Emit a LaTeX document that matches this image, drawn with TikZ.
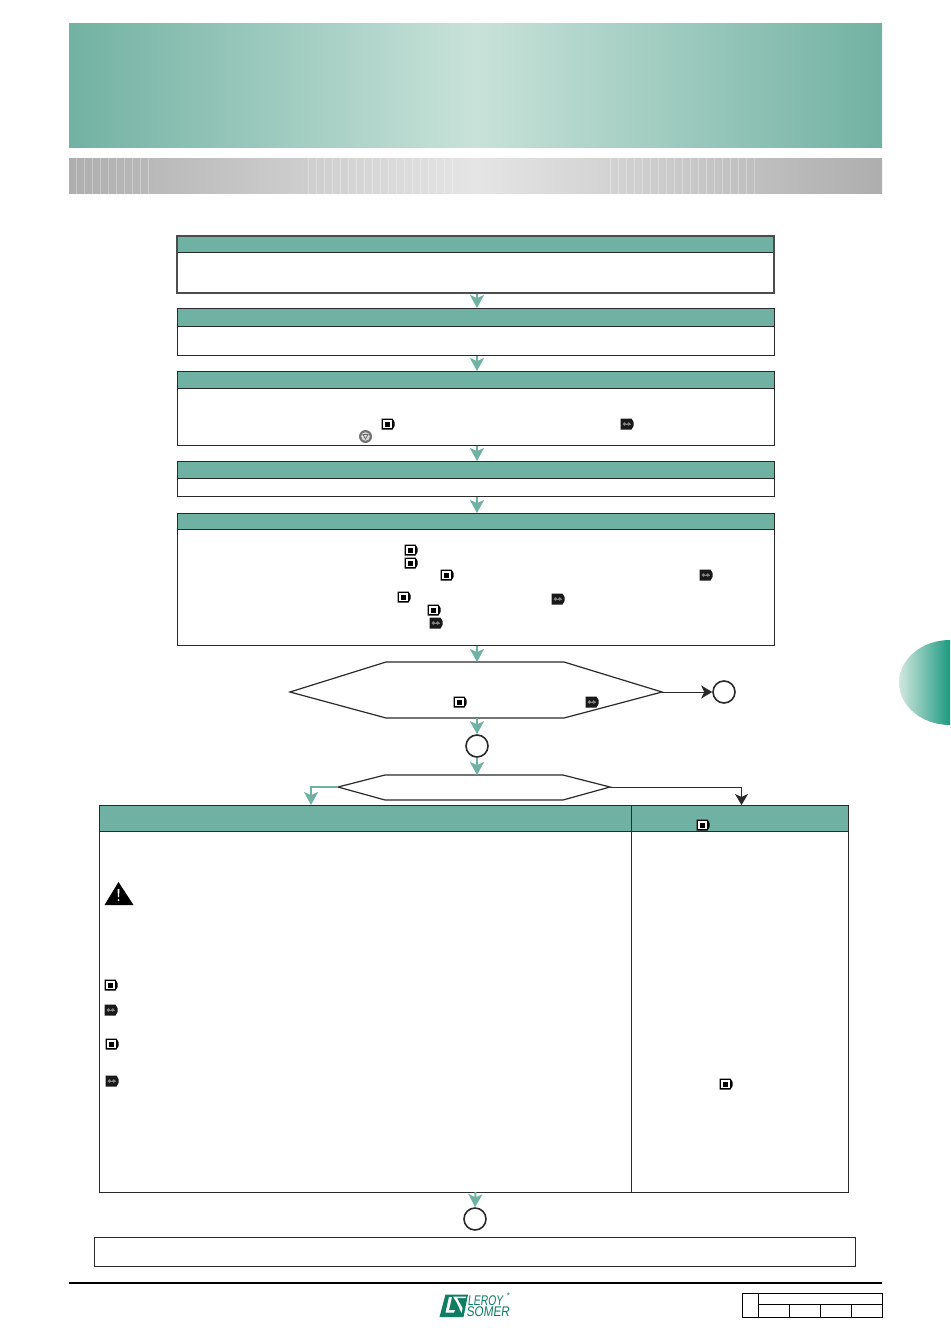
\documentclass[tikz,border=0pt]{standalone}
\usepackage{fontspec}
\setmainfont{Liberation Sans}
\usetikzlibrary{arrows.meta,fit,calc}
\definecolor{tealh}{HTML}{6FB1A3}
\definecolor{dk}{HTML}{2A2A2A}
\definecolor{lsgreen}{HTML}{0F7F63}
\definecolor{banE}{HTML}{72B2A3}
\definecolor{banM}{HTML}{C8E2D9}
\definecolor{barE}{HTML}{AEAEAE}
\definecolor{barM}{HTML}{E5E5E5}
\definecolor{tabL}{HTML}{D2E6E0}
\definecolor{tabR}{HTML}{1C9A80}
\tikzset{
  x=0.5pt,y=-0.5pt,
  px/.style={line width=#1*0.5pt},
  boxst/.style={draw=dk,px=1,inner sep=0pt,rectangle},
  hdrst/.style={fill=tealh,inner sep=0pt,rectangle},
  hrule/.style={draw=dk,px=1},
  tarrow/.style={draw=tealh,px=2,-{Stealth[length=6.5pt,width=7pt,inset=1.6pt]}},
  darrow/.style={draw=dk,px=1,-{Stealth[length=5.5pt,width=6.5pt,inset=1.5pt]}},
  circst/.style={circle,draw=dk,px=1.6,fill=white,minimum size=11pt,inner sep=0pt},
  hexst/.style={draw=dk,px=1.2,fill=white,line join=miter},
  stripe/.style={draw=white,px=1,opacity=0.3},
  iconA/.pic={
    \fill[black] (-6.5,-5.5)--(4.5,-5.5)--(6.5,-2)--(6.5,2)--(4.5,5.5)--(-6.5,5.5)--cycle;
    \fill[white] (-5.3,-3.8) rectangle (3.5,3.8);
    \fill[black] (-3.3,-2.5) rectangle (1.7,2.5);
  },
  iconB/.pic={
    \fill[black!90] (-6.5,-5.5)--(4.5,-5.5)--(6.5,-2)--(6.5,2)--(4.5,5.5)--(-6.5,5.5)--cycle;
    \fill[gray] (-2.5,0) circle (1.9);
    \fill[gray] (1.8,0) circle (1.9);
    \draw[gray,px=0.8] (-4.5,0)--(4,0);
  },
  iconC/.pic={
    \fill[black!55] (0,0) circle (6.5);
    \fill[white!85!black] (0,0) circle (4.3);
    \draw[black!60,px=0.7] (-2.5,-2)--(2.5,-2)--(0,2.5)--cycle;
  },
}
\begin{document}
\begin{tikzpicture}
\useasboundingbox (0,0) rectangle (950,1342);
\fill[white] (0,0) rectangle (950,1342);
% banner
\shade[left color=banE,right color=banE,middle color=banM] (69,24) rectangle (882,148);
% grey bar
\shade[left color=barE,right color=barE,middle color=barM] (69,158.4) rectangle (882,194);
\foreach \xx in {76,84,...,148} \draw[stripe] (\xx.4,158.4)--(\xx.4,194);
\foreach \xx in {308,316,...,452} \draw[stripe] (\xx,158.4)--(\xx,194);
\foreach \xx in {610,618,...,754} \draw[stripe] (\xx.4,158.4)--(\xx.4,194);
% side tab
\begin{scope}
\clip (950,682.5) ellipse (51 and 42.5);
\shade[left color=tabL,right color=tabR] (899,640) rectangle (950,725);
\end{scope}
% boxes
\coordinate (ax) at (477,0);
\node[hdrst,fit={(177,236)(774,252)}] (h1) {};
\draw[hrule] (h1.south west)--(h1.south east);
\node[boxst,fit={(177,236)(774,293)},draw=black!70,px=1.6] (b1) {};
\node[hdrst,fit={(177,308.5)(774,326.5)}] (h2) {};
\draw[hrule] (h2.south west)--(h2.south east);
\node[boxst,fit={(177,308.5)(774,355.5)}] (b2) {};
\node[hdrst,fit={(177,371.5)(774,388)}] (h3) {};
\draw[hrule] (h3.south west)--(h3.south east);
\node[boxst,fit={(177,371.5)(774,445.5)}] (b3) {};
\node[hdrst,fit={(177,461.5)(774,478)}] (h4) {};
\draw[hrule] (h4.south west)--(h4.south east);
\node[boxst,fit={(177,461.5)(774,496.5)}] (b4) {};
\node[hdrst,fit={(177,513.5)(774,529)}] (h5) {};
\draw[hrule] (h5.south west)--(h5.south east);
\node[boxst,fit={(177,513.5)(774,645.5)}] (b5) {};
% hexagons
\coordinate (h1L) at (290,692); \coordinate (h1R) at (662,692);
\coordinate (h1T) at (477,662); \coordinate (h1B) at (477,718);
\draw[hexst] (h1L)--(386,662)--(564,662)--(h1R)--(564,718)--(386,718)--cycle;
\coordinate (h2L) at (338,787); \coordinate (h2R) at (610,787);
\coordinate (h2T) at (477,775); \coordinate (h2B) at (477,800);
\draw[hexst] (h2L)--(385,775)--(563,775)--(h2R)--(563,800)--(385,800)--cycle;
% circles
\node[circst] (cA) at (724,692) {};
\node[circst] (cB) at (477,746) {};
\node[circst] (cC) at (475,1219) {};
% table
\node[hdrst,fit={(99,805.5)(848.5,831)}] (th) {};
\draw[hrule] (th.south west)--(th.south east);
\node[boxst,fit={(99,805.5)(848.5,1192)}] (tb) {};
\coordinate (tv1) at (631.7,805.5); \coordinate (tv2) at (631.7,1192);
\draw[dk,px=1] (tv1)--(tv2);
\node[boxst,fit={(94,1237)(855.5,1266)}] (fb) {};
% connectors
\draw[tarrow] (ax |- b1.south) -- (ax |- b2.north);
\draw[tarrow] (ax |- b2.south) -- (ax |- b3.north);
\draw[tarrow] (ax |- b3.south) -- (ax |- b4.north);
\draw[tarrow] (ax |- b4.south) -- (ax |- b5.north);
\draw[tarrow] (ax |- b5.south) -- (h1T);
\draw[tarrow] (h1B) -- (cB.north);
\draw[tarrow] (cB.south) -- (h2T);
\draw[tarrow,line join=miter] (h2L) -- (311,787) -- (311,805);
\draw[darrow] (h1R) -- (cA.west);
\draw[darrow] (h2R) -- (741.5,787) -- (741.5,805);
\draw[tarrow] (475.5,1192) -- (cC.north);
% icons
\foreach \a/\b in {388/424,411/550,411/563,447/575,404/597,434/610,460/702,703/825,111/985,112/1044,726/1084}
  \pic at (\a,\b) {iconA};
\foreach \a/\b in {627/424,706/575,558/599,436/623,592/702,111/1010,112/1081}
  \pic at (\a,\b) {iconB};
\pic at (365.5,436.5) {iconC};
% warning
\fill[black] (104.5,905)--(133.5,905)--(118.5,882)--cycle;
\fill[white] (117.5,889)--(119.5,889)--(119,897)--(118,897)--cycle;
\fill[white] (118.5,900) circle (1);
% footer rule
\draw[black,px=2] (69,1283)--(882,1283);
% small table
\draw[black,px=1] (742,1293.5) rectangle (882.5,1317.5);
\draw[black,px=1] (758,1304.5)--(882.5,1304.5);
\draw[black,px=1] (758,1293.5)--(758,1317.5);
\foreach \xx in {789,820,851} \draw[black,px=1] (\xx,1304.5)--(\xx,1317.5);
% logo
\fill[lsgreen] (445.5,1294.5)--(468,1294.5)--(463.5,1317)--(439.5,1317)--cycle;
\fill[white] (449,1297)--(452,1297)--(449,1310)--(455,1310)--(454,1312.5)--(445.5,1312.5)--cycle;
\fill[white] (453,1296.5)--(466,1296.5)--(465.5,1298)--(457,1298)--(462.5,1308)--(461.5,1313)--(457,1303)--cycle;
\node[inner sep=0pt,anchor=west,text=lsgreen,font=\fontsize{7}{7}\selectfont,xslant=0.12,xscale=0.74] (logoA) at (468,1300.5) {LEROY};
\node[inner sep=0pt,anchor=west,text=lsgreen,font=\fontsize{7}{7}\selectfont,xslant=0.12,xscale=0.84] (logoB) at (466.5,1311.5) {SOMER};
\node[inner sep=0pt,text=lsgreen,font=\fontsize{4}{4}\selectfont] (logoC) at (508.5,1296) {*};
\end{tikzpicture}
\end{document}
